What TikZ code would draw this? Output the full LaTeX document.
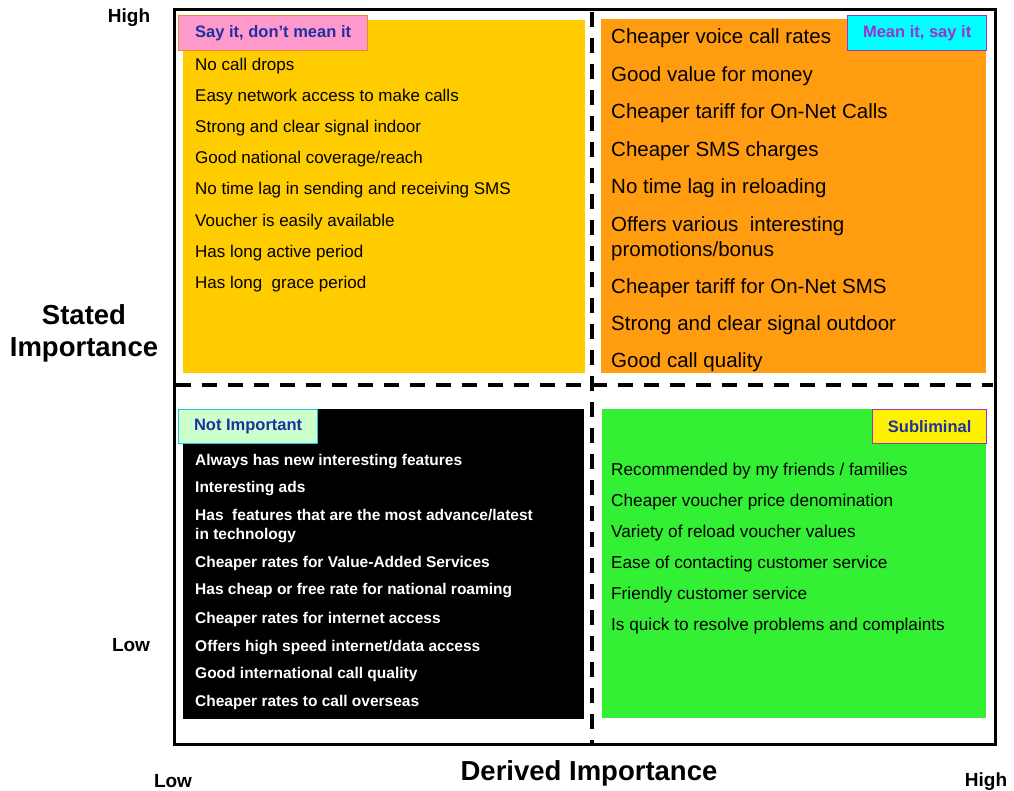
\documentclass[tikz,border=0pt]{standalone}
\usepackage{fontspec}
\setmainfont{Liberation Sans}
\definecolor{qyellow}{RGB}{255,204,0}
\definecolor{qorange}{RGB}{255,156,16}
\definecolor{qgreen}{RGB}{52,240,52}
\definecolor{tagblue}{RGB}{30,48,160}
\definecolor{tagpurple}{RGB}{153,51,204}
\definecolor{tagpink}{RGB}{255,153,204}
\definecolor{tagcyan}{RGB}{0,255,255}
\definecolor{tagmint}{RGB}{204,255,204}
\definecolor{tagedgeorange}{RGB}{230,140,40}
\definecolor{tagedgecyan}{RGB}{40,190,230}
\begin{document}
\begin{tikzpicture}[x=1pt,y=-1pt,
  quad/.style={anchor=north west,inner sep=0,outer sep=0,draw=none},
  tag/.style={anchor=north west,inner sep=0,line width=1.3pt,
    font=\fontsize{16.5}{19}\selectfont\bfseries},
  yitem/.style={anchor=west,inner sep=0,font=\fontsize{17}{19}\selectfont},
  oitem/.style={anchor=west,inner sep=0,align=left,font=\fontsize{20.5}{25}\selectfont},
  bitem/.style={anchor=west,inner sep=0,align=left,text=white,
    font=\fontsize{15.5}{19.5}\selectfont\bfseries},
  gitem/.style={anchor=west,inner sep=0,font=\fontsize{17.2}{20}\selectfont},
  axis/.style={inner sep=0,font=\fontsize{19}{22}\selectfont\bfseries},
  axtitle/.style={inner sep=0,align=center,font=\fontsize{27.5}{32}\selectfont\bfseries},
  divider/.style={line width=3.8pt,dash pattern=on 15pt off 11pt}]
\useasboundingbox (0,0) rectangle (1014,791);

% quadrant panels
\node[quad,fill=qyellow,minimum width=402pt,minimum height=353pt] (q1) at (183,20) {};
\node[quad,fill=qorange,minimum width=385pt,minimum height=354pt] (q2) at (601,19) {};
\node[quad,fill=black,minimum width=401pt,minimum height=310pt] (q3) at (183,409) {};
\node[quad,fill=qgreen,minimum width=384pt,minimum height=309pt] (q4) at (602,409) {};

% outer frame and dividing lines
\node[quad,draw=black,line width=3pt,minimum width=821pt,minimum height=734pt] (frame) at (174,10) {};
\coordinate (vtop) at (592,12);
\coordinate (vbot) at (592,743);
\coordinate (hl) at (176,385);
\coordinate (hr) at (993,385);
\draw[divider] (vtop) -- (vbot);
\draw[divider] (hl) -- (hr);

% quadrant tags
\node[tag,draw=tagedgeorange,fill=tagpink,text=tagblue,minimum width=189pt,minimum height=35pt] (t1) at (178,15) {Say it, don’t mean it};
\node[tag,draw=tagpurple,fill=tagcyan,text=tagpurple,minimum width=139pt,minimum height=35pt] (t2) at (847,15) {Mean it, say it};
\node[tag,draw=tagedgecyan,fill=tagmint,text=tagblue,minimum width=139pt,minimum height=34pt] (t3) at (178,409) {Not Important};
\node[tag,draw=tagpurple,fill=yellow,text=tagblue,minimum width=114pt,minimum height=34pt] (t4) at (872,409) {Subliminal};

% Say it, don't mean it
\node[yitem] (y1) at (195,66.5) {No call drops};
\node[yitem] (y2) at (195,97.5) {Easy network access to make  calls};
\node[yitem] (y3) at (195,128.5) {Strong and clear signal indoor};
\node[yitem] (y4) at (195,159.5) {Good national coverage/reach};
\node[yitem] (y5) at (195,190.5) {No time lag in sending and receiving SMS};
\node[yitem] (y6) at (195,222.5) {Voucher is easily available};
\node[yitem] (y7) at (195,253.5) {Has long active period};
\node[yitem] (y8) at (195,284.5) {Has long \ grace period};

% Mean it, say it
\node[oitem] (o1) at (611,38.5) {Cheaper voice call rates};
\node[oitem] (o2) at (611,76.5) {Good value for money};
\node[oitem] (o3) at (611,113.5) {Cheaper tariff for On-Net Calls};
\node[oitem] (o4) at (611,151.5) {Cheaper SMS charges};
\node[oitem] (o5) at (611,188.5) {No time lag in reloading};
\node[oitem] (o6) at (611,239) {Offers various \ interesting\\promotions/bonus};
\node[oitem] (o7) at (611,288.5) {Cheaper tariff for On-Net SMS};
\node[oitem] (o8) at (611,325.5) {Strong and clear signal outdoor};
\node[oitem] (o9) at (611,362.5) {Good call quality};

% Not important
\node[bitem] (b1) at (195,461.5) {Always has new interesting features};
\node[bitem] (b2) at (195,488.5) {Interesting ads};
\node[bitem] (b3) at (195,526) {Has \ features that are the most advance/latest\\in technology};
\node[bitem] (b4) at (195,563.5) {Cheaper rates for Value-Added Services};
\node[bitem] (b5) at (195,590.5) {Has cheap or free rate for national roaming};
\node[bitem] (b6) at (195,619) {Cheaper rates for internet access};
\node[bitem] (b7) at (195,647.5) {Offers high speed internet/data access};
\node[bitem] (b8) at (195,674.5) {Good international call quality};
\node[bitem] (b9) at (195,702.5) {Cheaper rates to call overseas};

% Subliminal
\node[gitem] (g1) at (611,471.5) {Recommended by my friends / families};
\node[gitem] (g2) at (611,502.5) {Cheaper voucher price denomination};
\node[gitem] (g3) at (611,533.5) {Variety of reload voucher values};
\node[gitem] (g4) at (611,564.5) {Ease of contacting customer service};
\node[gitem] (g5) at (611,595.5) {Friendly customer service};
\node[gitem] (g6) at (611,626.5) {Is quick to resolve problems and complaints};

% axes
\node[axis] (yhigh) at (129,17.5) {High};
\node[axis] (ylow) at (131,645.5) {Low};
\node[axtitle] (ytitle) at (84,333) {Stated\\Importance};
\node[axis] (xlow) at (173,781.5) {Low};
\node[axis] (xhigh) at (986,781.5) {High};
\node[axtitle] (xtitle) at (589,773) {Derived Importance};
\end{tikzpicture}
\end{document}
